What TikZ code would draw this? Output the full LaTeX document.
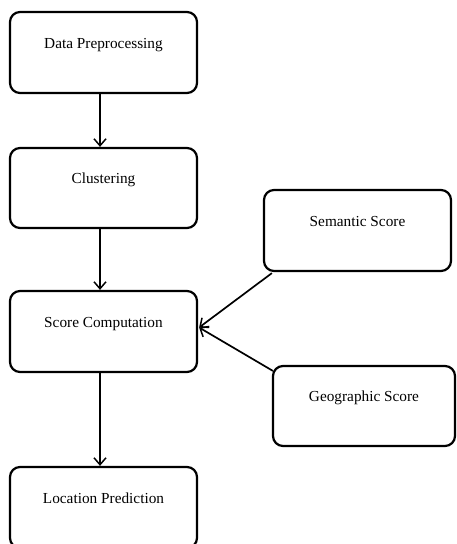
\documentclass[tikz,border=0pt]{standalone}
\usepackage{fontspec}
\setmainfont{Liberation Serif}
\usetikzlibrary{arrows.meta,calc}
\tikzset{
  stepbox/.style={draw, line width=2.2pt, rounded corners=10pt, inner sep=0pt,
    text height=10pt, text depth=19pt, font=\fontsize{15.3}{17}\selectfont},
  flow/.style={draw, line width=1.7pt, -{Straight Barb[length=7pt,width=12pt,line width=1.5pt]}}
}
\begin{document}
\begin{tikzpicture}[x=1pt,y=-1pt]
\useasboundingbox (0,0) rectangle (457,544);
\node[stepbox, minimum width=187pt, minimum height=81pt] (dp) at (103.5,52.5) {Data Preprocessing};
\node[stepbox, minimum width=187pt, minimum height=80pt] (cl) at (103.5,188) {Clustering};
\node[stepbox, minimum width=187pt, minimum height=81pt] (sc) at (103.5,331.5) {Score Computation};
\node[stepbox, minimum width=187pt, minimum height=81pt] (ss) at (357.5,230.5) {Semantic Score};
\node[stepbox, minimum width=182pt, minimum height=80pt] (gs) at (364,406) {Geographic Score};
\node[stepbox, minimum width=187pt, minimum height=81pt] (lp) at (103.5,507.5) {Location Prediction};
\draw[flow] ([xshift=-3.5pt]dp.south) -- ([xshift=-3.5pt]cl.north);
\draw[flow] ([xshift=-3.5pt]cl.south) -- ([xshift=-3.5pt]sc.north);
\draw[flow] ([xshift=-3.5pt]sc.south) -- ([xshift=-3.5pt]lp.north);
\draw[flow] ([xshift=9pt,yshift=-1pt]ss.south west) -- ([xshift=1pt,yshift=4pt]sc.east);
\draw[flow] ([xshift=1pt,yshift=-6pt]gs.north west) -- ([xshift=1pt,yshift=4pt]sc.east);
\end{tikzpicture}
\end{document}
